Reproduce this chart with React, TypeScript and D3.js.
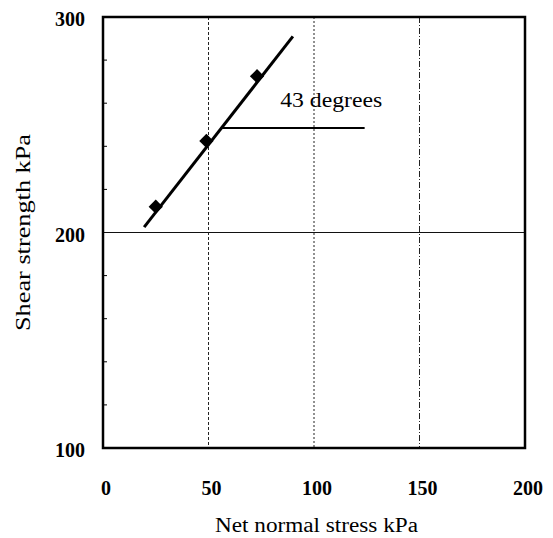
import React from "react";
import * as d3 from "d3";

const width = 553;
const height = 538;
const margin = { top: 17, right: 28, bottom: 90, left: 103 };

// measured points (net normal stress, shear strength)
const stress = [25, 49, 73];
const strength = [212, 242.5, 272.5];
// fitted failure envelope end points
const fitX = [19.5, 90];
const fitY = [202.5, 291];
// horizontal reference line for the angle
const refX = [56.5, 124];
const refY = 248.5;
const angleLabel = "43 degrees";

const xTicks = [0, 50, 100, 150, 200];
const yTicks = [100, 200, 300];
const yMinor = [120, 140, 160, 180, 220, 240, 260, 280];

export default function App() {
  const x = d3.scaleLinear().domain([0, 200]).range([margin.left, width - margin.right]);
  const y = d3.scaleLinear().domain([100, 300]).range([height - margin.bottom, margin.top]);
  const line = d3.line<number>().x((d, i) => x(fitX[i])).y((d, i) => y(fitY[i]));
  const diamond = d3.symbol().type(d3.symbolDiamond2).size(130)();
  const font = "'Liberation Serif', 'Times New Roman', serif";

  // grid line styles, like the scan
  const gridDash: Record<number, string> = { 50: "3,2", 100: "2,2", 150: "6,2,1,2" };

  return (
    <svg width={width} height={height} style={{ position: "absolute", left: 0, top: 0 }} fontFamily={font}>
      <rect width={width} height={height} fill="#fff" />
      {[50, 100, 150].map((v) => (
        <line key={v} x1={x(v)} x2={x(v)} y1={y(300)} y2={y(100)} stroke="#222" strokeWidth={1} strokeDasharray={gridDash[v]} />
      ))}
      <line x1={x(0)} x2={x(200)} y1={y(200)} y2={y(200)} stroke="#111" strokeWidth={1} />
      {yMinor.map((v) => (
        <line key={v} x1={x(0)} x2={x(0) + 4} y1={y(v)} y2={y(v)} stroke="#000" strokeWidth={1} />
      ))}
      <rect x={x(0)} y={y(300)} width={x(200) - x(0)} height={y(100) - y(300)} fill="none" stroke="#000" strokeWidth={2.5} />

      <path d={line(fitX) || ""} fill="none" stroke="#000" strokeWidth={3} />
      <line x1={x(refX[0])} x2={x(refX[1])} y1={y(refY)} y2={y(refY)} stroke="#000" strokeWidth={2} />
      {stress.map((s, i) => (
        <path key={i} d={diamond || ""} transform={`translate(${x(s)},${y(strength[i])})`} fill="#000" />
      ))}
      <text x={x(84)} y={y(258.2)} fontSize={21} fill="#000" textLength={102} lengthAdjust="spacingAndGlyphs">{angleLabel}</text>

      {yTicks.map((v) => (
        <text key={v} x={x(0) - 18} y={y(v) + 9} fontSize={20} fontWeight="bold" fill="#000" textAnchor="end">{v}</text>
      ))}
      {xTicks.map((v) => (
        <text key={v} x={x(v) + 3} y={y(100) + 47} fontSize={20} fontWeight="bold" fill="#000" textAnchor="middle">{v}</text>
      ))}
      <text x={316.5} y={532} fontSize={20} fill="#000" textAnchor="middle" textLength={203} lengthAdjust="spacingAndGlyphs">Net normal stress kPa</text>
      <text transform={`translate(30,${y(200)}) rotate(-90)`} fontSize={20} fill="#000" textAnchor="middle" textLength={197} lengthAdjust="spacingAndGlyphs">Shear strength kPa</text>
    </svg>
  );
}
